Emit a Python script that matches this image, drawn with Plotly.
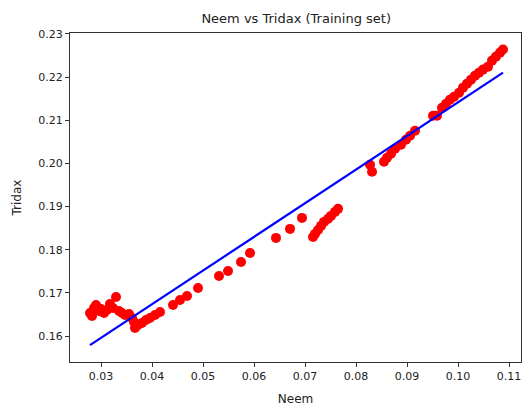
import plotly.graph_objects as go

neem = [0.02784, 0.02824, 0.02863, 0.02902, 0.02961, 0.0300, 0.03059, 0.03118, 0.03176, 0.03235,
        0.03294, 0.03353, 0.03412, 0.03471, 0.03549, 0.03608, 0.03647, 0.03667, 0.03725, 0.03804,
        0.03882, 0.03961, 0.04059, 0.04157, 0.04412, 0.04549, 0.04686, 0.04902, 0.05314, 0.05490,
        0.05745, 0.05922, 0.06431, 0.06706, 0.06941, 0.07157, 0.07196, 0.07255, 0.07314, 0.07373,
        0.07451, 0.07510, 0.07588, 0.07647, 0.08275, 0.08314, 0.08549, 0.08608, 0.08686, 0.08765,
        0.08882, 0.08980, 0.09059, 0.09157, 0.09510, 0.09588, 0.09686, 0.09765, 0.09843, 0.09922,
        0.10020, 0.10098, 0.10176, 0.10255, 0.10333, 0.10412, 0.10490, 0.10588, 0.10667, 0.10745,
        0.10824, 0.10882]
tridax = [0.16534, 0.16464, 0.16650, 0.16719, 0.16580, 0.16626, 0.16534, 0.16603, 0.16742, 0.16650,
          0.16905, 0.16580, 0.16534, 0.16487, 0.16510, 0.16418, 0.16325, 0.16186, 0.16255, 0.16302,
          0.16371, 0.16418, 0.16487, 0.16557, 0.16719, 0.16835, 0.16928, 0.17114, 0.17392, 0.17508,
          0.17717, 0.17926, 0.18274, 0.18483, 0.18738, 0.18297, 0.18367, 0.18459, 0.18552, 0.18645,
          0.18715, 0.18784, 0.18877, 0.18947, 0.19968, 0.19805, 0.20037, 0.20130, 0.20223, 0.20339,
          0.20432, 0.20548, 0.20640, 0.20756, 0.21104, 0.21104, 0.21290, 0.21383, 0.21476, 0.21545,
          0.21638, 0.21754, 0.21847, 0.21940, 0.22032, 0.22102, 0.22172, 0.22241, 0.22381, 0.22473,
          0.22566, 0.22636]

line_x = [0.02784, 0.10882]
line_y = [0.15791, 0.22102]

x_ticks = [0.03, 0.04, 0.05, 0.06, 0.07, 0.08, 0.09, 0.10, 0.11]
y_ticks = [0.16, 0.17, 0.18, 0.19, 0.20, 0.21, 0.22, 0.23]

fig = go.Figure()
fig.add_trace(go.Scatter(x=neem, y=tridax, mode="markers",
                         marker=dict(color="red", size=10, line=dict(width=0)),
                         showlegend=False))
fig.add_trace(go.Scatter(x=line_x, y=line_y, mode="lines",
                         line=dict(color="blue", width=2.2), showlegend=False))

axis_common = dict(showline=True, linecolor="#333", linewidth=1, mirror=True,
                   ticks="outside", ticklen=4, tickcolor="#333", showgrid=False,
                   zeroline=False, tickfont=dict(family="DejaVu Sans", size=11, color="#222"),
                   tickformat=".2f")

fig.update_layout(
    width=527, height=412,
    margin=dict(l=70, r=6, t=33, b=50),
    paper_bgcolor="white", plot_bgcolor="white",
    title=dict(text="Neem vs Tridax (Training set)", x=0.562, xanchor="center",
               y=0.955, yanchor="middle",
               font=dict(family="DejaVu Sans", size=13, color="#222")),
    xaxis=dict(range=[0.02392, 0.11235], tickvals=x_ticks,
               title=dict(text="Neem", font=dict(family="DejaVu Sans", size=12, color="#222"), standoff=12),
               **axis_common),
    yaxis=dict(range=[0.1540, 0.2302], tickvals=y_ticks,
               title=dict(text="Tridax", font=dict(family="DejaVu Sans", size=12, color="#222"), standoff=14),
               **axis_common),
)

fig.write_html("out.html")
